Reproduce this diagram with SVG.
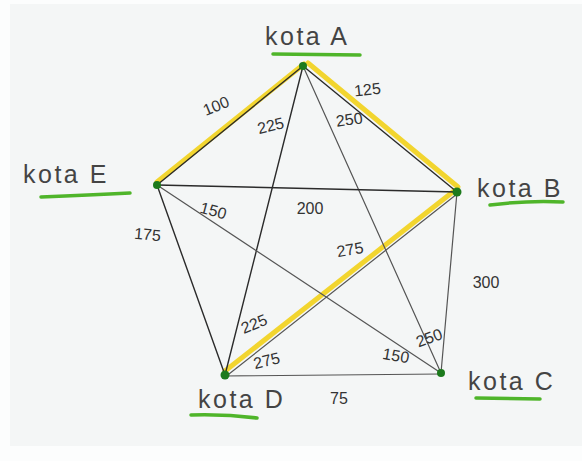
<svg xmlns="http://www.w3.org/2000/svg" width="582" height="461" viewBox="0 0 582 461">
<style>
.edge{stroke:#2b2b2b;stroke-width:1.4;fill:none;stroke-linecap:round}
.edge.light{stroke:#555;stroke-width:1.2}
.hl{stroke:#f2d11a;stroke-width:5;fill:none;stroke-linecap:round;opacity:0.9}
.node{fill:#1c7a1c}
.ul{stroke:#4fb52a;stroke-width:3.5;fill:none;stroke-linecap:round}
.lbl{font-family:"Liberation Sans","DejaVu Sans",sans-serif;font-size:25px;fill:#444;letter-spacing:2.5px}
.w{font-family:"Liberation Sans","DejaVu Sans",sans-serif;font-size:16px;fill:#333;text-anchor:middle}
</style>
<rect x="0" y="0" width="582" height="461" fill="#fcfdfd"/>
<rect x="10" y="4" width="572" height="442" fill="#f4f6f6"/>
<g id="connectors">
<line class="hl" x1="304" y1="64" x2="157" y2="182"/>
<line class="hl" x1="308" y1="63" x2="458" y2="187"/>
<line class="hl" x1="454" y1="191" x2="225" y2="371"/>
<line class="edge" x1="303" y1="66" x2="157" y2="185"/>
<line class="edge" x1="303" y1="66" x2="457" y2="192"/>
<line class="edge" x1="303" y1="66" x2="225" y2="375"/>
<line class="edge light" x1="303" y1="66" x2="441" y2="373"/>
<line class="edge" x1="157" y1="185" x2="457" y2="192"/>
<line class="edge" x1="157" y1="185" x2="225" y2="375"/>
<line class="edge light" x1="157" y1="185" x2="441" y2="373"/>
<line class="edge light" x1="457" y1="194" x2="229" y2="374"/>
<line class="edge light" x1="457" y1="192" x2="441" y2="373"/>
<line class="edge light" x1="225" y1="376" x2="441" y2="374"/>
</g>
<g id="weights">
<text class="w" transform="translate(218,111) rotate(-22)">100</text>
<text class="w" transform="translate(272,131) rotate(-14)">225</text>
<text class="w" transform="translate(350,125) rotate(-8)">250</text>
<text class="w" transform="translate(368,95) rotate(-6)">125</text>
<text class="w" transform="translate(212,216) rotate(15)">150</text>
<text class="w" transform="translate(310,214)">200</text>
<text class="w" transform="translate(147,240) rotate(5)">175</text>
<text class="w" transform="translate(351,255) rotate(-10)">275</text>
<text class="w" transform="translate(486,288)">300</text>
<text class="w" transform="translate(256,329) rotate(-22)">225</text>
<text class="w" transform="translate(268,366) rotate(-14)">275</text>
<text class="w" transform="translate(395,361) rotate(10)">150</text>
<text class="w" transform="translate(431,343) rotate(-20)">250</text>
<text class="w" transform="translate(339,404)">75</text>
</g>
<g id="node-A">
<circle class="node" cx="303" cy="66" r="4"/>
<text class="lbl" x="265" y="45">kota A</text>
<path class="ul" d="M273 54 L360 55"/>
</g>
<g id="node-B">
<circle class="node" cx="457" cy="192" r="4.5"/>
<text class="lbl" x="477" y="197">kota B</text>
<path class="ul" d="M490 205 Q530 200 563 202"/>
</g>
<g id="node-C">
<circle class="node" cx="441" cy="373" r="4"/>
<text class="lbl" x="468" y="390">kota C</text>
<path class="ul" d="M476 398 L540 399"/>
</g>
<g id="node-D">
<circle class="node" cx="225" cy="375" r="4.5"/>
<text class="lbl" x="198" y="408">kota D</text>
<path class="ul" d="M191 415 Q225 414 257 418"/>
</g>
<g id="node-E">
<circle class="node" cx="157" cy="185" r="4"/>
<text class="lbl" x="23" y="183">kota E</text>
<path class="ul" d="M41 197 Q90 195 130 193"/>
</g>
</svg>
